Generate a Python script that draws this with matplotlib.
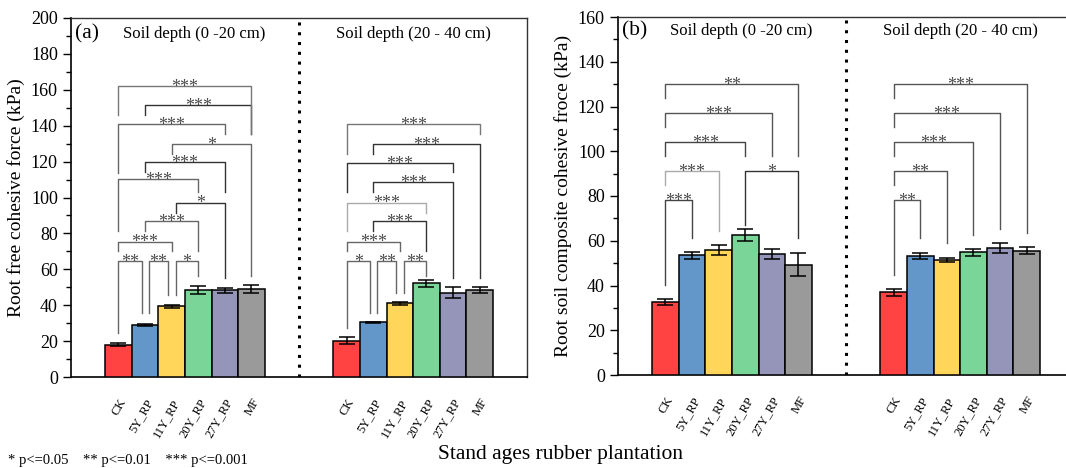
import numpy as np
import matplotlib
matplotlib.use('Agg')
import matplotlib.pyplot as plt
from matplotlib.ticker import MultipleLocator

plt.rcParams['font.family'] = ['Liberation Serif', 'DejaVu Serif']

stands = ["CK", "5Y_RP", "11Y_RP", "20Y_RP", "27Y_RP", "MF"]
depths = ["Soil depth (0 -20 cm)", "Soil depth (20 - 40 cm)"]
colors = ["#FF4343", "#6497C9", "#FFD65A", "#79D698", "#9595B9", "#9A9A9A"]

# root free cohesive force (kPa), mean and error per depth
free_mean = [[18.0, 28.9, 39.4, 48.5, 48.2, 48.9],
             [20.3, 30.4, 41.0, 52.1, 46.9, 48.3]]
free_err = [[1.0, 0.6, 0.8, 2.1, 1.5, 2.2],
            [2.0, 0.5, 1.0, 2.0, 3.0, 1.7]]

# root soil composite cohesive force (kPa)
comp_mean = [[32.8, 53.5, 55.7, 62.6, 54.1, 49.3],
             [36.9, 53.2, 51.5, 54.8, 56.8, 55.6]]
comp_err = [[1.3, 1.5, 2.2, 2.5, 2.2, 5.2],
            [1.4, 1.3, 1.0, 1.5, 2.4, 1.5]]

# significance brackets: left bar, right bar, top, left leg end, right leg end, label, colour
free_sig = [
    [(0, 0.87, 64.6, 24.4, 35.6, "**", "#666"),
     (1.13, 1.87, 64.6, 35.6, 45.9, "**", "#666"),
     (2.15, 3, 64.6, 45.9, 56.2, "*", "#666"),
     (0, 2, 75.4, 70.2, 70.2, "***", "#666"),
     (1, 3, 87.0, 81.4, 70.2, "***", "#666"),
     (2.15, 4, 97.2, 91.6, 55.2, "*", "#333"),
     (0, 3, 110.3, 81.4, 102.8, "***", "#666"),
     (1, 4, 119.6, 114.0, 102.8, "***", "#333"),
     (2, 5, 129.9, 124.3, 56.2, "*", "#666"),
     (0, 4, 141.1, 113.5, 135.5, "***", "#666"),
     (1, 5, 151.4, 145.8, 135.5, "***", "#333"),
     (0, 5, 162.0, 145.8, 135.5, "***", "#777")],
    [(0, 0.87, 64.6, 27.2, 35.6, "*", "#666"),
     (1.15, 1.87, 64.6, 35.6, 46.8, "**", "#666"),
     (2.15, 3, 64.6, 46.8, 56.2, "**", "#666"),
     (0, 2, 75.4, 70.2, 70.2, "***", "#666"),
     (1, 3, 87.0, 81.4, 70.2, "***", "#333"),
     (0, 3, 97.2, 81.4, 91.6, "***", "#AAA"),
     (1, 4, 108.8, 102.8, 55.2, "***", "#333"),
     (0, 4, 119.3, 102.8, 114.0, "***", "#333"),
     (1, 5, 129.9, 124.3, 55.2, "***", "#333"),
     (0, 5, 140.7, 124.3, 135.5, "***", "#777")],
]
comp_sig = [
    [(0, 1, 78.1, 40.4, 61.2, "***", "#444"),
     (0, 2, 91.2, 85.1, 64.2, "***", "#AAA"),
     (3, 5, 91.2, 67.2, 61.2, "*", "#333"),
     (0, 3, 104.1, 97.7, 97.7, "***", "#444"),
     (0, 4, 117.1, 110.7, 97.7, "***", "#555"),
     (0, 5, 130.2, 123.8, 97.7, "**", "#555")],
    [(0, 1, 78.1, 44.8, 61.2, "**", "#555"),
     (0, 2, 91.2, 85.1, 59.0, "**", "#555"),
     (0, 3, 104.1, 97.7, 62.7, "***", "#555"),
     (0, 4, 117.1, 110.7, 65.3, "***", "#555"),
     (0, 5, 130.2, 123.8, 63.5, "***", "#555")],
]

GROUP_SHIFT = 8.58
XLIM = (-1.786, 15.36)


def draw_panel(ax, means, errs, sigs, ymax, ylabel, tag, title_y):
    x = np.arange(len(stands))
    for g, (m, e) in enumerate(zip(means, errs)):
        xs = x + g * GROUP_SHIFT
        ax.bar(xs, m, 1.0, color=colors, edgecolor="black", linewidth=1.1, zorder=3)
        ax.errorbar(xs, m, yerr=e, fmt="none", ecolor="black", elinewidth=1.1,
                    capsize=5.5, capthick=1.1, zorder=4)
        for xl, xr, top, yl, yr, lab, col in sigs[g]:
            xl += g * GROUP_SHIFT
            xr += g * GROUP_SHIFT
            ax.plot([xl, xl, xr, xr], [yl, top, top, yr], color=col, lw=1.0, zorder=2)
            # asterisks sit right on the bracket line
            ax.annotate(lab, ((xl + xr) / 2, top), xytext=(0, -4.2),
                        textcoords="offset points", ha="center", va="baseline",
                        fontsize=13, color="#4a4a4a", zorder=5)
        ax.text(2.85 + g * (11.1 - 2.85), title_y, depths[g], ha="center", va="center",
                fontsize=12, transform=ax.get_xaxis_transform())

    ax.axvline(6.78, color="black", lw=2.2, linestyle=(0, (1, 2.2)))
    ax.text(0.008, title_y, tag, ha="left", va="center", fontsize=15.5,
            transform=ax.transAxes)

    ticks = np.concatenate([x, x + GROUP_SHIFT])
    ax.set_xticks(ticks)
    ax.set_xticklabels(stands * 2, rotation=60, ha="right", rotation_mode="anchor",
                       fontsize=9)
    ax.tick_params(axis="x", length=0, pad=14)
    ax.set_xlim(*XLIM)
    ax.set_ylim(0, ymax)
    ax.yaxis.set_major_locator(MultipleLocator(20))
    ax.yaxis.set_minor_locator(MultipleLocator(10))
    ax.tick_params(axis="y", which="major", length=6, width=1, labelsize=13, direction="out")
    ax.tick_params(axis="y", which="minor", length=3.5, width=1, direction="out")
    ax.set_ylabel(ylabel, fontsize=14, labelpad=4)
    for side in ["left", "bottom"]:
        ax.spines[side].set_linewidth(1.2)
    for side in ["top", "right"]:
        ax.spines[side].set_linewidth(1.0)
        ax.spines[side].set_color("#333")


fig = plt.figure(figsize=(10.66, 4.68), dpi=100)
ax_a = fig.add_axes([71 / 1066, 91 / 468, 456 / 1066, 359 / 468])
ax_b = fig.add_axes([618 / 1066, 93 / 468, 456 / 1066, 358 / 468])

draw_panel(ax_a, free_mean, free_err, free_sig, 200,
           "Root free cohesive force (kPa)", "(a)", 0.955)
draw_panel(ax_b, comp_mean, comp_err, comp_sig, 160,
           "Root soil composite cohesive froce (kPa)", "(b)", 0.962)

fig.text(561 / 1066, 1 - 455 / 468, "Stand ages rubber plantation", ha="center",
         va="center", fontsize=15.5)
fig.text(8 / 1066, 1 / 468, "* p<=0.05    ** p<=0.01    *** p<=0.001",
         ha="left", va="bottom", fontsize=10.5)

fig.savefig("out.png", dpi=100)
